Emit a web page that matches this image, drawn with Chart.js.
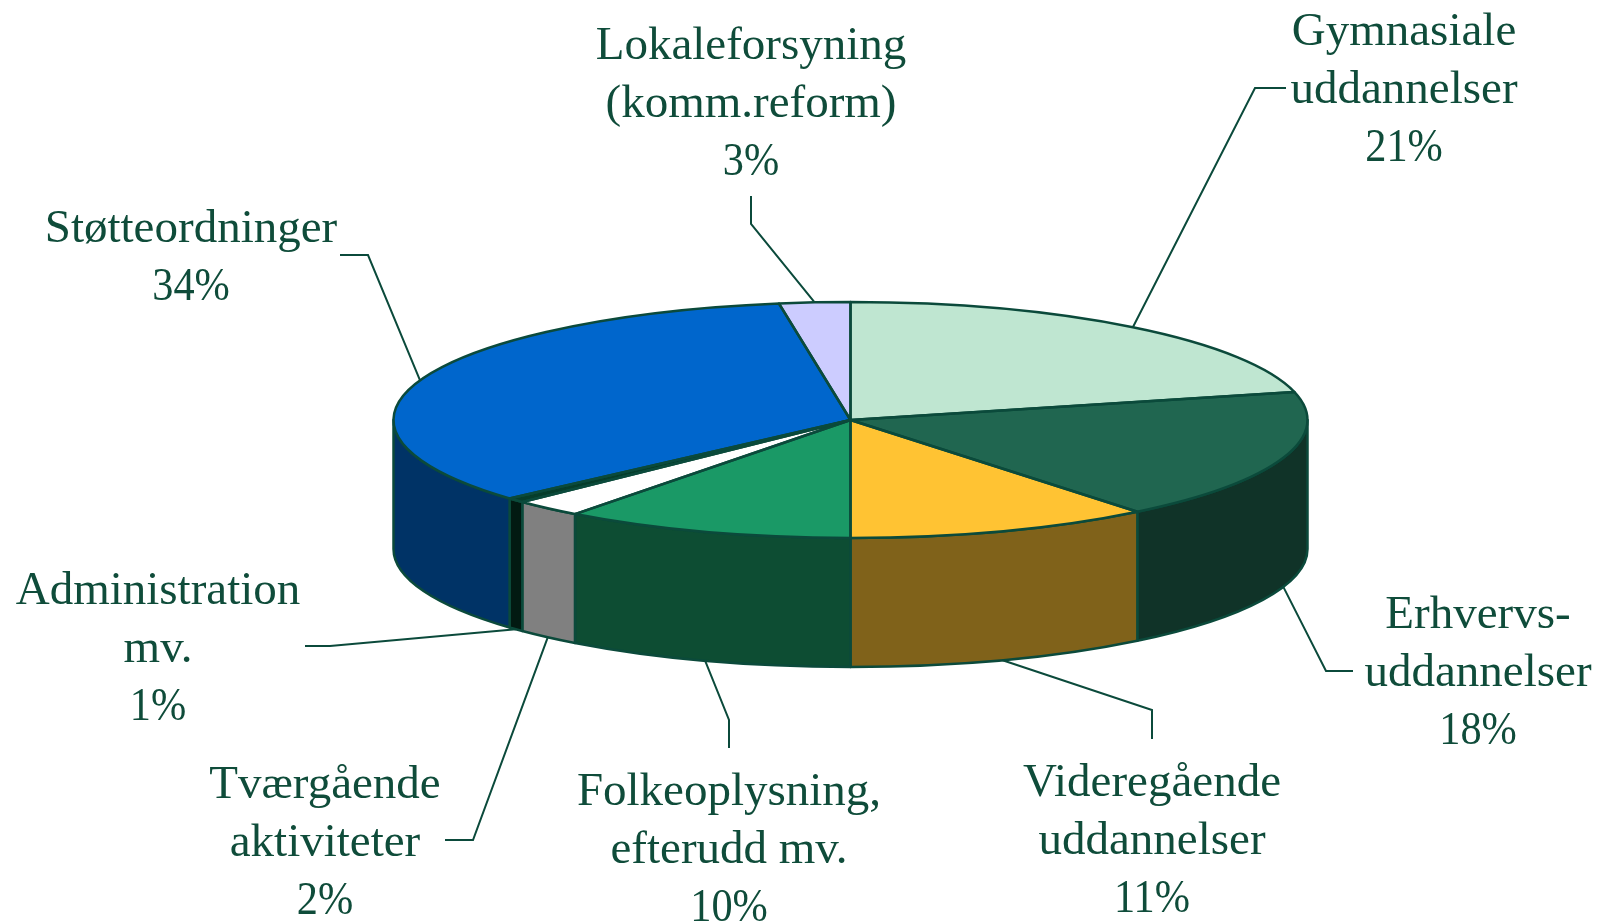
<!DOCTYPE html>
<html>
<head>
<meta charset="utf-8">
<style>
  html, body { margin: 0; padding: 0; background: #fff; }
  canvas { display: block; }
</style>
<script src="https://cdn.jsdelivr.net/npm/chart.js"></script>
</head>
<body>
<canvas id="budgetPie" width="1616" height="924"></canvas>
<script>
    const categories = [
        ['Gymnasiale', 'uddannelser'],
        ['Erhvervs-', 'uddannelser'],
        ['Videregående', 'uddannelser'],
        ['Folkeoplysning,', 'efterudd mv.'],
        ['Tværgående', 'aktiviteter'],
        ['Administration', 'mv.'],
        ['Støtteordninger'],
        ['Lokaleforsyning', '(komm.reform)']
    ];
    const shares = [21.2, 18.0, 10.8, 10.3, 2.45, 0.65, 34.1, 2.5];
    const percentLabels = ['21%', '18%', '11%', '10%', '2%', '1%', '34%', '3%'];
    const topColors = ['#BFE6D1', '#206650', '#FFC333', '#1A9966', '#FFFFFF', '#063D2B', '#0066CC', '#CCCCFF'];
    const wallColors = ['#60736A', '#103328', '#80621A', '#0D4D33', '#808080', '#021A12', '#003366', '#666680'];

    // layout of the text blocks and the bend of each leader line
    const labelCenterX = [1404, 1478, 1152, 729, 325, 158, 191, 751];
    const labelFirstBaseline = [45, 628, 796, 805, 798, 604, 242, 59];
    const leaderStart = [[1286, 88], [1353, 671], [1152, 739], [729, 748], [445, 840], [305, 646], [340, 255], [751, 196]];
    const leaderBend = [[1255, 88], [1326, 671], [1152, 710], [729, 720], [473, 840], [330, 646], [368, 255], [751, 224]];

    const LINE_COLOR = '#0B4A3B';
    const TEXT_COLOR = '#0F4C3A';
    const SQUASH = 0.258;
    const DEPTH = 129;
    const LINE_HEIGHT = 58;
    const PERCENT_STRETCH = 0.9;

    const pie3d = {
        id: 'pie3d',
        beforeDatasetDraw(chart) {
            const ctx = chart.ctx;
            const arcs = chart.getDatasetMeta(0).data;

            // side walls, only the front half of the rim can be seen
            ctx.save();
            ctx.strokeStyle = LINE_COLOR;
            ctx.lineWidth = 2.5;
            ctx.lineJoin = 'round';
            arcs.forEach((arc, i) => {
                const from = Math.max(arc.startAngle, 0);
                const to = Math.min(arc.endAngle, Math.PI);
                if (to <= from) return;
                const ry = arc.outerRadius * SQUASH;
                ctx.beginPath();
                ctx.ellipse(arc.x, arc.y, arc.outerRadius, ry, 0, from, to);
                ctx.ellipse(arc.x, arc.y + DEPTH, arc.outerRadius, ry, 0, to, from, true);
                ctx.closePath();
                ctx.fillStyle = wallColors[i];
                ctx.fill();
                ctx.stroke();
            });
            ctx.restore();

            // the library draws the top face through this squash
            ctx.save();
            ctx.translate(0, arcs[0].y);
            ctx.scale(1, SQUASH);
            ctx.translate(0, -arcs[0].y);
        },
        afterDatasetDraw(chart) {
            const ctx = chart.ctx;
            ctx.restore();

            ctx.save();
            ctx.strokeStyle = LINE_COLOR;
            ctx.lineWidth = 2.5;
            ctx.lineJoin = 'round';
            chart.getDatasetMeta(0).data.forEach(arc => {
                ctx.beginPath();
                ctx.moveTo(arc.x, arc.y);
                ctx.ellipse(arc.x, arc.y, arc.outerRadius, arc.outerRadius * SQUASH, 0, arc.startAngle, arc.endAngle);
                ctx.closePath();
                ctx.stroke();
            });
            ctx.restore();
        },
        afterDraw(chart) {
            const ctx = chart.ctx;
            ctx.save();
            chart.getDatasetMeta(0).data.forEach((arc, i) => {
                // leader line ends on the rim at the middle of the slice
                const mid = (arc.startAngle + arc.endAngle) / 2;
                const endX = arc.x + arc.outerRadius * Math.cos(mid);
                let endY = arc.y + arc.outerRadius * SQUASH * Math.sin(mid);
                if (Math.sin(mid) > 0) endY += DEPTH;

                ctx.strokeStyle = LINE_COLOR;
                ctx.lineWidth = 2;
                ctx.beginPath();
                ctx.moveTo(leaderStart[i][0], leaderStart[i][1]);
                ctx.lineTo(leaderBend[i][0], leaderBend[i][1]);
                ctx.lineTo(endX, endY);
                ctx.stroke();

                ctx.fillStyle = TEXT_COLOR;
                ctx.font = '47px "Liberation Serif"';
                ctx.textAlign = 'center';
                ctx.textBaseline = 'alphabetic';
                categories[i].forEach((line, n) => {
                    ctx.fillText(line, labelCenterX[i], labelFirstBaseline[i] + n * LINE_HEIGHT);
                });

                // the percent figures are narrower than the words in the original
                ctx.save();
                ctx.translate(labelCenterX[i], labelFirstBaseline[i] + categories[i].length * LINE_HEIGHT);
                ctx.scale(PERCENT_STRETCH, 1);
                ctx.fillText(percentLabels[i], 0, 0);
                ctx.restore();
            });
            ctx.restore();
        }
    };

    new Chart(document.getElementById('budgetPie'), {
        type: 'pie',
        data: {
            labels: categories.map(c => c.join(' ')),
            datasets: [{
                data: shares,
                backgroundColor: topColors,
                borderWidth: 0,
                clip: false
            }]
        },
        options: {
            responsive: false,
            animation: false,
            events: [],
            radius: 457,
            layout: { padding: { left: 85, bottom: 84 } },
            plugins: {
                legend: { display: false },
                tooltip: { enabled: false }
            }
        },
        plugins: [pie3d]
    });
</script>
</body>
</html>
